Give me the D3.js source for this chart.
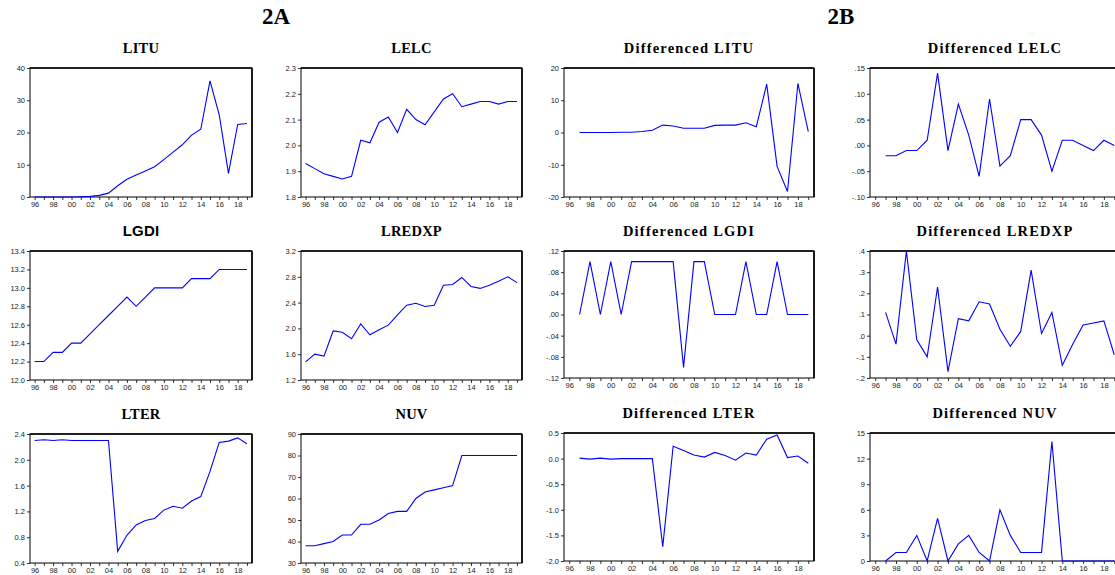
<!DOCTYPE html>
<html><head><meta charset="utf-8">
<script src="https://cdn.jsdelivr.net/npm/d3@7"></script>
<style>
html,body{margin:0;padding:0;background:#fff;overflow:hidden;}
svg{display:block;}
</style></head>
<body>
<svg id="chart" width="1115" height="575"></svg>
<script>
// ---------- data ----------
const yearsLevel = [1996,1997,1998,1999,2000,2001,2002,2003,2004,2005,2006,2007,2008,2009,2010,2011,2012,2013,2014,2015,2016,2017,2018,2019];
const yearsDiff  = [1997,1998,1999,2000,2001,2002,2003,2004,2005,2006,2007,2008,2009,2010,2011,2012,2013,2014,2015,2016,2017,2018,2019];

const litu   = [0,0,0,0,0,0.1,0.2,0.5,1.2,3.5,5.5,6.8,8.1,9.4,11.6,13.9,16.2,19.2,21,36,25.5,7.3,22.5,22.8];
const lelc   = [1.93,1.91,1.89,1.88,1.87,1.88,2.02,2.01,2.09,2.11,2.05,2.14,2.10,2.08,2.13,2.18,2.20,2.15,2.16,2.17,2.17,2.16,2.17,2.17];
const lgdi   = [12.2,12.2,12.3,12.3,12.4,12.4,12.5,12.6,12.7,12.8,12.9,12.8,12.9,13.0,13.0,13.0,13.0,13.1,13.1,13.1,13.2,13.2,13.2,13.2];
const lredxp = [1.48,1.60,1.57,1.96,1.94,1.84,2.07,1.90,1.98,2.05,2.21,2.36,2.39,2.34,2.36,2.67,2.68,2.79,2.65,2.62,2.67,2.73,2.80,2.71];
const lter   = [2.30,2.31,2.30,2.31,2.30,2.30,2.30,2.30,2.30,0.58,0.83,0.99,1.06,1.09,1.22,1.28,1.25,1.36,1.43,1.82,2.27,2.29,2.34,2.25];
const nuv    = [38,38,39,40,43,43,48,48,50,53,54,54,60,63,64,65,66,80,80,80,80,80,80,80];

const dLitu   = [0,0,0,0,0.1,0.1,0.3,0.7,2.3,2.0,1.3,1.3,1.3,2.2,2.3,2.3,3.0,1.8,15,-10.5,-18.3,15.2,0.3];
const dLelc   = [-0.02,-0.02,-0.01,-0.01,0.01,0.14,-0.01,0.08,0.02,-0.06,0.09,-0.04,-0.02,0.05,0.05,0.02,-0.05,0.01,0.01,0.0,-0.01,0.01,0.0];
const dLgdi   = [0,0.1,0,0.1,0,0.1,0.1,0.1,0.1,0.1,-0.1,0.1,0.1,0,0,0,0.1,0,0,0.1,0,0,0];
const dLredxp = [0.11,-0.04,0.40,-0.02,-0.10,0.23,-0.17,0.08,0.07,0.16,0.15,0.03,-0.05,0.02,0.31,0.01,0.11,-0.14,-0.04,0.05,0.06,0.07,-0.09];
const dLter   = [0.01,-0.01,0.01,-0.01,0,0,0,0,-1.72,0.24,0.16,0.07,0.03,0.12,0.06,-0.03,0.11,0.07,0.38,0.46,0.02,0.05,-0.09];
const dNuv    = [0,1,1,3,0,5,0,2,3,1,0,6,3,1,1,1,14,0,0,0,0,0,0];

// tick values / labels
const ticksLitu   = [0,10,20,30,40];          const lblLitu   = ["0","10","20","30","40"];
const ticksLelc   = [1.8,1.9,2.0,2.1,2.2,2.3]; const lblLelc   = ["1.8","1.9","2.0","2.1","2.2","2.3"];
const ticksLgdi   = [12.0,12.2,12.4,12.6,12.8,13.0,13.2,13.4]; const lblLgdi = ["12.0","12.2","12.4","12.6","12.8","13.0","13.2","13.4"];
const ticksLredxp = [1.2,1.6,2.0,2.4,2.8,3.2]; const lblLredxp = ["1.2","1.6","2.0","2.4","2.8","3.2"];
const ticksLter   = [0.4,0.8,1.2,1.6,2.0,2.4]; const lblLter   = ["0.4","0.8","1.2","1.6","2.0","2.4"];
const ticksNuv    = [30,40,50,60,70,80,90];    const lblNuv    = ["30","40","50","60","70","80","90"];
const ticksDLitu  = [-20,-10,0,10,20];         const lblDLitu  = ["-20","-10","0","10","20"];
const ticksDLelc  = [-0.10,-0.05,0,0.05,0.10,0.15]; const lblDLelc = ["-.10","-.05",".00",".05",".10",".15"];
const ticksDLgdi  = [-0.12,-0.08,-0.04,0,0.04,0.08,0.12]; const lblDLgdi = ["-.12","-.08","-.04",".00",".04",".08",".12"];
const ticksDLredxp= [-0.2,-0.1,0,0.1,0.2,0.3,0.4]; const lblDLredxp = ["-.2","-.1",".0",".1",".2",".3",".4"];
const ticksDLter  = [-2.0,-1.5,-1.0,-0.5,0,0.5]; const lblDLter = ["-2.0","-1.5","-1.0","-0.5","0.0","0.5"];
const ticksDNuv   = [0,3,6,9,12,15];          const lblDNuv   = ["0","3","6","9","12","15"];

const titles = ["LITU","LELC","Differenced LITU","Differenced LELC",
                "LGDI","LREDXP","Differenced LGDI","Differenced LREDXP",
                "LTER","NUV","Differenced LTER","Differenced NUV"];
const headers = ["2A","2B"];

// ---------- layout ----------
const SERIF = "'Liberation Serif','Times New Roman',serif";
const SANS  = "'Liberation Sans',Arial,sans-serif";

const panels = [
  {t:0, xs:yearsLevel, ys:litu,   tv:ticksLitu,   tl:lblLitu,   box:[30,68,252,197]},
  {t:1, xs:yearsLevel, ys:lelc,   tv:ticksLelc,   tl:lblLelc,   box:[301,68,522,197]},
  {t:2, xs:yearsDiff,  ys:dLitu,  tv:ticksDLitu,  tl:lblDLitu,  box:[564,68,814,197]},
  {t:3, xs:yearsDiff,  ys:dLelc,  tv:ticksDLelc,  tl:lblDLelc,  box:[870,68,1120,197]},
  {t:4, xs:yearsLevel, ys:lgdi,   tv:ticksLgdi,   tl:lblLgdi,   box:[30,251,252,380], sans:true},
  {t:5, xs:yearsLevel, ys:lredxp, tv:ticksLredxp, tl:lblLredxp, box:[301,251,522,380]},
  {t:6, xs:yearsDiff,  ys:dLgdi,  tv:ticksDLgdi,  tl:lblDLgdi,  box:[564,251,814,378]},
  {t:7, xs:yearsDiff,  ys:dLredxp,tv:ticksDLredxp,tl:lblDLredxp,box:[870,251,1120,378]},
  {t:8, xs:yearsLevel, ys:lter,   tv:ticksLter,   tl:lblLter,   box:[30,434,252,563]},
  {t:9, xs:yearsLevel, ys:nuv,    tv:ticksNuv,    tl:lblNuv,    box:[301,434,522,563]},
  {t:10,xs:yearsDiff,  ys:dLter,  tv:ticksDLter,  tl:lblDLter,  box:[564,433,814,561]},
  {t:11,xs:yearsDiff,  ys:dNuv,   tv:ticksDNuv,   tl:lblDNuv,   box:[870,433,1120,561]}
];

const svg = d3.select("#chart");

// header letters
svg.append("text").attr("x",276).attr("y",24).attr("text-anchor","middle")
  .attr("font-family",SERIF).attr("font-weight","bold").attr("font-size",23).text(headers[0]);
svg.append("text").attr("x",841).attr("y",24).attr("text-anchor","middle")
  .attr("font-family",SERIF).attr("font-weight","bold").attr("font-size",23).text(headers[1]);

panels.forEach(p => {
  const [x0,y0,x1,y1] = p.box;
  const g = svg.append("g");
  const x = d3.scaleLinear().domain([1995.5,2019.55]).range([x0,x1]);
  const y = d3.scaleLinear().domain([p.tv[0], p.tv[p.tv.length-1]]).range([y1,y0]);

  // title
  const isDiff = titles[p.t].startsWith("Differenced");
  g.append("text").attr("x",(x0+x1)/2).attr("y",y0-15)
    .attr("text-anchor","middle")
    .attr("font-family", p.sans ? SANS : SERIF).attr("font-weight","bold")
    .attr("font-size", p.sans ? 15 : 14.5)
    .attr("letter-spacing", isDiff ? 1.2 : 0.2)
    .text(titles[p.t]);

  // x axis
  const xa = d3.axisBottom(x).tickValues(yearsLevel).tickSize(3).tickPadding(1.5)
    .tickFormat(d => d % 2 === 0 ? String(d).slice(2) : "");
  const gx = g.append("g").attr("transform",`translate(0,${y1})`).call(xa);
  // y axis
  const ya = d3.axisLeft(y).tickValues(p.tv).tickSize(3).tickPadding(2)
    .tickFormat((d,i) => p.tl[i]);
  const gy = g.append("g").attr("transform",`translate(${x0},0)`).call(ya);

  [gx,gy].forEach(a => {
    a.select(".domain").remove();
    a.selectAll("line").attr("stroke","#000").attr("stroke-width",0.8);
    a.selectAll("text").attr("font-family",SANS).attr("font-size",7.5).attr("fill","#222");
  });

  // frame
  g.append("rect").attr("x",x0).attr("y",y0).attr("width",x1-x0).attr("height",y1-y0)
    .attr("fill","none").attr("stroke","#000").attr("stroke-width",1);
  g.append("line").attr("x1",x1).attr("x2",x1).attr("y1",y0).attr("y2",y1)
    .attr("stroke","#000").attr("stroke-width",1.6);
  g.append("line").attr("x1",x0).attr("x2",x1).attr("y1",y0).attr("y2",y0)
    .attr("stroke","#000").attr("stroke-width",1.4);

  // series
  const line = d3.line().x((d,i)=>x(p.xs[i])).y(d=>y(d));
  g.append("path").datum(p.ys).attr("d",line).attr("fill","none")
    .attr("stroke","#0000ff").attr("stroke-width",1.1).attr("stroke-linejoin","miter");
});
</script>
</body></html>
